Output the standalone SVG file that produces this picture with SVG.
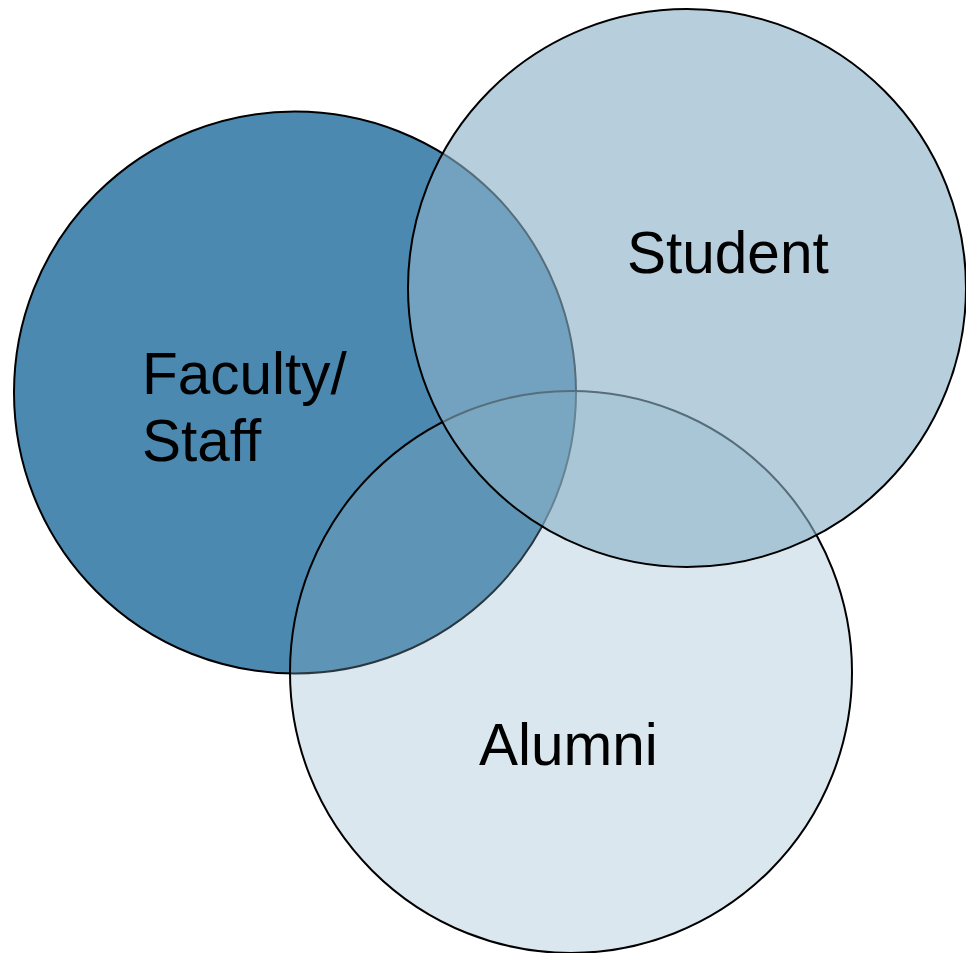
<svg xmlns="http://www.w3.org/2000/svg" width="966" height="953" viewBox="0 0 966 953">
  <style>
    .ring { stroke: #000; stroke-width: 2; }
    .label { font-family: "Liberation Sans", Arial, sans-serif; font-size: 58.5px; fill: #000; }
  </style>
  <rect width="966" height="953" fill="#fff"/>
  <g id="faculty">
    <circle class="ring" cx="295" cy="392.5" r="281" fill="#4b89b0"/>
  </g>
  <g id="alumni">
    <circle class="ring" cx="571" cy="672" r="281" fill="#8bb1c8" fill-opacity="0.31"/>
  </g>
  <g id="student">
    <circle class="ring" cx="687" cy="288" r="279" fill="#8bb1c8" fill-opacity="0.62"/>
  </g>
  <g id="labels">
    <text class="label" x="142" y="394">Faculty/</text>
    <text class="label" x="142" y="461">Staff</text>
    <text class="label" x="627" y="273">Student</text>
    <text class="label" x="479" y="765">Alumni</text>
  </g>
</svg>
